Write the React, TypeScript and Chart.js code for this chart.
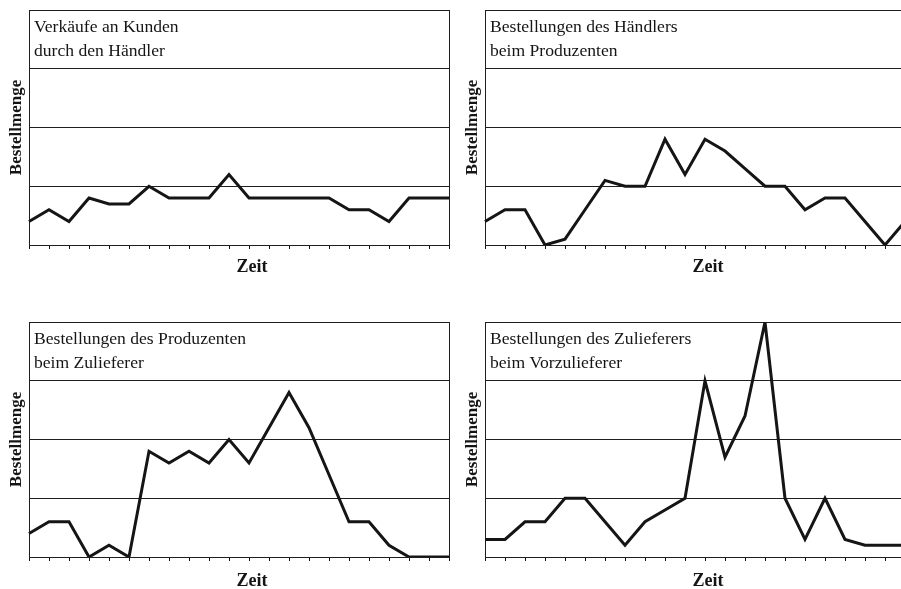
import React, { useEffect, useRef } from "react";
import { Chart, registerables } from "chart.js";

Chart.register(...registerables);

const periods: string[] = [
  "1", "2", "3", "4", "5", "6", "7", "8", "9", "10", "11",
  "12", "13", "14", "15", "16", "17", "18", "19", "20", "21", "22",
];

const salesToCustomers: number[] = [2, 3, 2, 4, 3.5, 3.5, 5, 4, 4, 4, 6, 4, 4, 4, 4, 4, 3, 3, 2, 4, 4, 4];
const retailerOrders: number[] = [2, 3, 3, 0, 0.5, 3, 5.5, 5, 5, 9, 6, 9, 8, 6.5, 5, 5, 3, 4, 4, 2, 0, 2];
const producerOrders: number[] = [2, 3, 3, 0, 1, 0, 9, 8, 9, 8, 10, 8, 11, 14, 11, 7, 3, 3, 1, 0, 0, 0];
const supplierOrders: number[] = [1.5, 1.5, 3, 3, 5, 5, 3, 1, 3, 4, 5, 15, 8.5, 12, 20, 5, 1.5, 5, 1.5, 1, 1, 1];

const yMin = 0;
const yMax = 20;
const yStep = 5;

const xTitle = "Zeit";
const yTitle = "Bestellmenge";

type PanelDef = {
  title: [string, string];
  values: number[];
  left: number;
  top: number;
  width: number;
  height: number;
  pad: { left: number; top: number; right: number; bottom: number };
  zeitOffset: number;
};

const panels: PanelDef[] = [
  {
    title: ["Verkäufe an Kunden", "durch den Händler"],
    values: salesToCustomers,
    left: 0, top: 0, width: 456, height: 300,
    pad: { left: 29, top: 10, right: 7, bottom: 51 },
    zeitOffset: 27,
  },
  {
    title: ["Bestellungen des Händlers", "beim Produzenten"],
    values: retailerOrders,
    left: 456, top: 0, width: 456, height: 300,
    pad: { left: 29, top: 10, right: 7, bottom: 51 },
    zeitOffset: 27,
  },
  {
    title: ["Bestellungen des Produzenten", "beim Zulieferer"],
    values: producerOrders,
    left: 0, top: 300, width: 456, height: 289,
    pad: { left: 29, top: 22, right: 7, bottom: 28 },
    zeitOffset: 29,
  },
  {
    title: ["Bestellungen des Zulieferers", "beim Vorzulieferer"],
    values: supplierOrders,
    left: 456, top: 300, width: 456, height: 289,
    pad: { left: 29, top: 22, right: 7, bottom: 28 },
    zeitOffset: 29,
  },
];

const INK = "#151515";
const GRID = "#1e1e1e";
const SERIF = '"Liberation Serif", "DejaVu Serif", serif';

function Panel({ def }: { def: PanelDef }) {
  const ref = useRef<HTMLCanvasElement | null>(null);

  useEffect(() => {
    if (!ref.current) return;
    const textPlugin = {
      id: "panelTexts",
      afterDraw(chart: any) {
        const ctx = chart.ctx as CanvasRenderingContext2D;
        const ca = chart.chartArea;
        ctx.save();
        // right frame line
        ctx.strokeStyle = GRID;
        ctx.lineWidth = 1;
        ctx.beginPath();
        ctx.moveTo(Math.round(ca.right) + 0.5, ca.top);
        ctx.lineTo(Math.round(ca.right) + 0.5, ca.bottom);
        ctx.stroke();
        // title lines
        ctx.fillStyle = INK;
        ctx.font = `17.6px ${SERIF}`;
        ctx.textAlign = "left";
        ctx.textBaseline = "alphabetic";
        ctx.fillText(def.title[0], ca.left + 5, ca.top + 21.5);
        ctx.fillText(def.title[1], ca.left + 5, ca.top + 45.5);
        // x title
        ctx.font = `bold 18px ${SERIF}`;
        ctx.textAlign = "center";
        ctx.fillText(xTitle, (ca.left + ca.right) / 2 + 13, ca.bottom + def.zeitOffset);
        // y title
        ctx.font = `bold 17px ${SERIF}`;
        ctx.translate(ca.left - 12.5, (ca.top + ca.bottom) / 2);
        ctx.rotate(-Math.PI / 2);
        ctx.textBaseline = "middle";
        ctx.fillText(yTitle, 0, 0);
        ctx.restore();
      },
    };

    const chart = new Chart(ref.current, {
      type: "line",
      data: {
        labels: periods,
        datasets: [
          {
            data: def.values,
            borderColor: INK,
            borderWidth: 3,
            pointRadius: 0,
            tension: 0,
            fill: false,
            borderJoinStyle: "miter",
          },
        ],
      },
      options: {
        responsive: false,
        maintainAspectRatio: false,
        animation: false,
        devicePixelRatio: 1,
        layout: { padding: def.pad },
        plugins: {
          legend: { display: false },
          tooltip: { enabled: false },
          title: { display: false },
        },
        scales: {
          x: {
            type: "category",
            offset: false,
            grid: {
              drawOnChartArea: false,
              drawTicks: true,
              tickLength: 4,
              color: "#111111",
              lineWidth: 1,
            },
            ticks: { display: false },
            border: { display: true, color: GRID, width: 1 },
          },
          y: {
            min: yMin,
            max: yMax,
            ticks: { display: false, stepSize: yStep },
            grid: { color: GRID, lineWidth: 1, drawTicks: false },
            border: { display: true, color: GRID, width: 1 },
          },
        },
      },
      plugins: [textPlugin],
    } as any);

    return () => chart.destroy();
  }, [def]);

  return (
    <canvas
      ref={ref}
      width={def.width}
      height={def.height}
      style={{
        position: "absolute",
        left: def.left,
        top: def.top,
        width: def.width,
        height: def.height,
      }}
    />
  );
}

export default function App() {
  return (
    <div
      style={{
        position: "absolute",
        left: 0,
        top: 0,
        width: 901,
        height: 589,
        overflow: "hidden",
        background: "#ffffff",
      }}
    >
      {panels.map((p, i) => (
        <Panel key={i} def={p} />
      ))}
    </div>
  );
}
